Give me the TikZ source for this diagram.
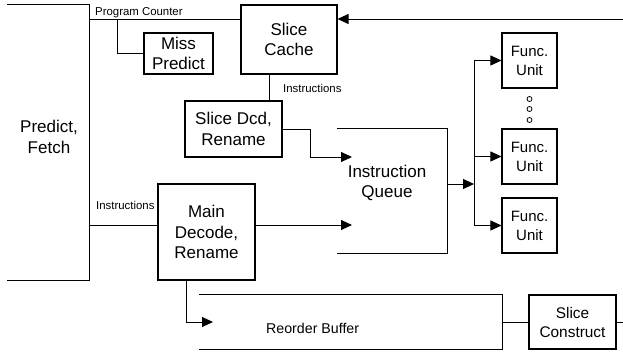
\documentclass[tikz,border=0pt]{standalone}
\usepackage{fontspec}
\setmainfont{Liberation Sans}
\usetikzlibrary{arrows.meta}

\begin{document}
\begin{tikzpicture}[x=1pt,y=-1pt,
    blk/.style={draw,line width=1.1pt,inner sep=0pt,align=center,font=\fontsize{17}{20.5}\selectfont},
    fu/.style={blk,minimum width=55pt,minimum height=55pt,font=\fontsize{15}{19}\selectfont},
    open/.style={inner sep=0pt,minimum width=#1},
    txt/.style={inner sep=0pt,align=center,font=\fontsize{17}{20.5}\selectfont},
    wire/.style={line width=0.9pt},
    edge/.style={line width=1.1pt},
    arr/.style={wire,-{Triangle[length=11pt,width=10pt]}},
    lbl/.style={inner sep=0pt,anchor=base west,font=\fontsize{11.4}{13}\selectfont}]
\useasboundingbox (0,0) rectangle (623,352);

% boxes
\node [blk,minimum width=96pt,minimum height=69pt] (cache) at (289,39.5) {Slice\\Cache};
\node [blk,minimum width=69pt,minimum height=41pt] (miss) at (178.5,53.5) {Miss\\Predict};
\node [blk,minimum width=97pt,minimum height=56pt] (sdcd) at (233.5,129) {Slice Dcd,\\Rename};
\node [blk,minimum width=97pt,minimum height=96pt] (main) at (206.5,232) {Main\\Decode,\\Rename};
\node [fu] (fu1) at (529.5,60.5) {Func.\\Unit};
\node [fu] (fu2) at (529.5,156.5) {Func.\\Unit};
\node [fu] (fu3) at (529.5,225.5) {Func.\\Unit};
\node [blk,minimum width=87pt,minimum height=54pt,font=\fontsize{15.4}{19}\selectfont] (sc) at (572.5,322) {Slice\\Construct};

% open boxes
\node [open=82pt,minimum height=275pt] (fetch) at (48,142.5) {};
\node [open=110pt,minimum height=124pt] (iq) at (392,191) {};
\node [open=303pt,minimum height=55pt] (rob) at (350.5,322) {};
\draw [edge] (fetch.north west) -- (fetch.north east) -- (fetch.south east) -- (fetch.south west);
\draw [edge] (iq.north west) -- (iq.north east) -- (iq.south east) -- (iq.south west);
\draw [edge] (rob.north west) -- (rob.north east) -- (rob.south east) -- (rob.south west);
\node [txt] (fetchtxt) at (49,137) {Predict,\\Fetch};
\node [txt] (iqtxt) at (387,183) {Instruction\\Queue};
\node [lbl,font=\fontsize{14.2}{17}\selectfont] (robtxt) at (266,333.3) {Reorder Buffer};

% dots between units
\foreach \y [count=\i] in {99,109,120}
    \node [draw,circle,inner sep=0pt,minimum size=5pt,line width=0.8pt] (dot\i) at (529.5,\y) {};

% labels
\node [lbl] (pclbl) at (95,15.3) {Program Counter};
\node [lbl] (inlbl1) at (283,92.7) {Instructions};
\node [lbl] (inlbl2) at (96,210) {Instructions};

% wires
\coordinate (pc) at (89,19);
\coordinate (pcbr) at (117,19);
\coordinate (loopin) at (623,19);
\coordinate (iqin1) at (352,157);
\coordinate (iqin2) at (352,225);
\coordinate (instr) at (89,225);
\coordinate (robin) at (213,322);
\coordinate (loopout) at (623,322);
\coordinate (bus) at (474,184);

\draw [wire] (pc) -- (pc -| cache.west);
\draw [wire] (pcbr) |- (miss.west);
\draw [arr] (loopin) -- (loopin -| cache.east);
\draw [wire] ([xshift=-20pt]cache.south) -- ([xshift=-20pt]cache.south |- sdcd.north);
\draw [arr] (sdcd.east) -- ++(28,0) |- (iqin1);
\draw [wire] (instr) -- (instr -| main.west);
\draw [arr] (main.east |- iqin2) -- (iqin2);
\draw [arr] ([xshift=-20.5pt]main.south) |- (robin);
\draw [wire] (rob.east) -- (sc.west);
\draw [wire] (sc.east) -- (loopout);
\draw [arr] (iq.east |- bus) -- (bus);
\draw [wire] (bus |- fu1.west) -- (bus |- fu3.west);
\foreach \i in {1,2,3}
    \draw [arr] (bus |- fu\i.west) -- (fu\i.west);
\end{tikzpicture}
\end{document}
